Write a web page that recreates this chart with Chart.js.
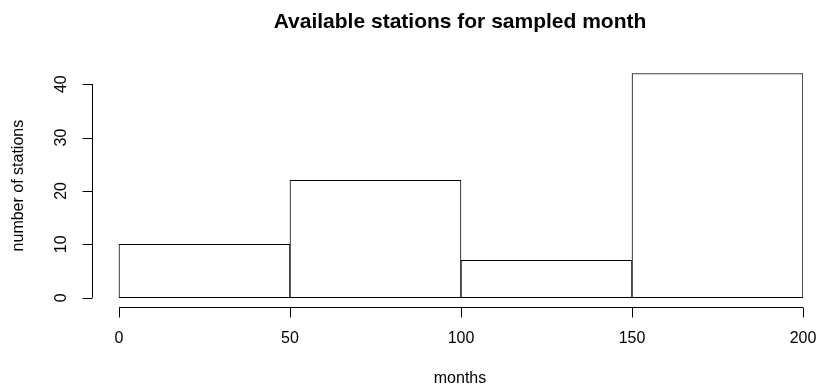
<!DOCTYPE html>
<html>
<head>
    <meta charset='utf-8'>
    <title>Available stations</title>
    <script src="https://cdn.jsdelivr.net/npm/chart.js"></script>
    <style>
        html, body { margin: 0; padding: 0; background: #fff; }
        #hist { display: block; }
    </style>
</head>
<body>
    <canvas id="hist" width="817" height="390"></canvas>
    <script>
        // histogram bins (months) and counts
        var binStarts = [0, 50, 100, 150];
        var binEnds = [50, 100, 150, 200];
        var counts = [10, 22, 7, 42];
        var xTicks = [0, 50, 100, 150, 200];
        var yTicks = [0, 10, 20, 30, 40];

        var FONT = '"Liberation Sans", Arial, Helvetica, sans-serif';

        var points = binStarts.map(function (s, i) {
            return { x: (s + binEnds[i]) / 2, y: counts[i] };
        });

        // R style axes, titles and tick labels
        const rAxes = {
            id: 'rAxes',
            afterDraw(chart) {
                const c = chart.ctx;
                const xs = chart.scales.x, ys = chart.scales.y;
                const area = chart.chartArea;
                c.save();
                c.strokeStyle = '#000';
                c.fillStyle = '#000';
                c.lineWidth = 1;

                // x axis
                const xAxisY = Math.round(area.bottom) + 0.5;
                c.beginPath();
                c.moveTo(xs.getPixelForValue(xTicks[0]), xAxisY);
                c.lineTo(xs.getPixelForValue(xTicks[xTicks.length - 1]), xAxisY);
                xTicks.forEach(function (t) {
                    const px = Math.round(xs.getPixelForValue(t)) + 0.5;
                    c.moveTo(px, xAxisY);
                    c.lineTo(px, xAxisY + 10);
                });
                c.stroke();
                c.font = '16px ' + FONT;
                c.textAlign = 'center';
                c.textBaseline = 'middle';
                xTicks.forEach(function (t) {
                    c.fillText(String(t), xs.getPixelForValue(t), 339);
                });

                // y axis
                const yAxisX = Math.round(area.left) + 0.5;
                c.beginPath();
                c.moveTo(yAxisX, ys.getPixelForValue(yTicks[0]));
                c.lineTo(yAxisX, ys.getPixelForValue(yTicks[yTicks.length - 1]));
                yTicks.forEach(function (t) {
                    const py = Math.round(ys.getPixelForValue(t)) + 0.5;
                    c.moveTo(yAxisX, py);
                    c.lineTo(yAxisX - 10, py);
                });
                c.stroke();
                yTicks.forEach(function (t) {
                    c.save();
                    c.translate(62, ys.getPixelForValue(t));
                    c.rotate(-Math.PI / 2);
                    c.fillText(String(t), 0, 0);
                    c.restore();
                });

                // titles
                const midX = 460;
                c.font = 'bold 21px ' + FONT;
                c.fillText('Available stations for sampled month', midX, 22);
                c.font = '16px ' + FONT;
                c.fillText('months', midX, 379);
                c.save();
                c.translate(19, (area.top + area.bottom) / 2);
                c.rotate(-Math.PI / 2);
                c.fillText('number of stations', 0, 0);
                c.restore();
                c.restore();
            }
        };

        const ctx = document.getElementById('hist').getContext('2d');
        const histChart = new Chart(ctx, {
            type: 'bar',
            data: {
                datasets: [{
                    data: points,
                    backgroundColor: '#ffffff',
                    borderColor: '#000000',
                    borderWidth: 1,
                    borderSkipped: false,
                    barPercentage: 1.0,
                    categoryPercentage: 1.0,
                }]
            },
            options: {
                responsive: false,
                animation: false,
                events: [],
                layout: {
                    padding: { left: 91.6, right: 14, top: 64.5, bottom: 83.3 }
                },
                plugins: {
                    legend: { display: false },
                    tooltip: { enabled: false },
                },
                scales: {
                    x: {
                        type: 'linear',
                        display: false,
                        offset: false,
                        min: -8,
                        max: 200,
                        afterBuildTicks: function (scale) {
                            scale.ticks = xTicks.map(function (v) { return { value: v }; });
                        }
                    },
                    y: {
                        type: 'linear',
                        display: false,
                        min: -1.68,
                        max: 43.68,
                    }
                }
            },
            plugins: [rAxes]
        });
    </script>
</body>
</html>
